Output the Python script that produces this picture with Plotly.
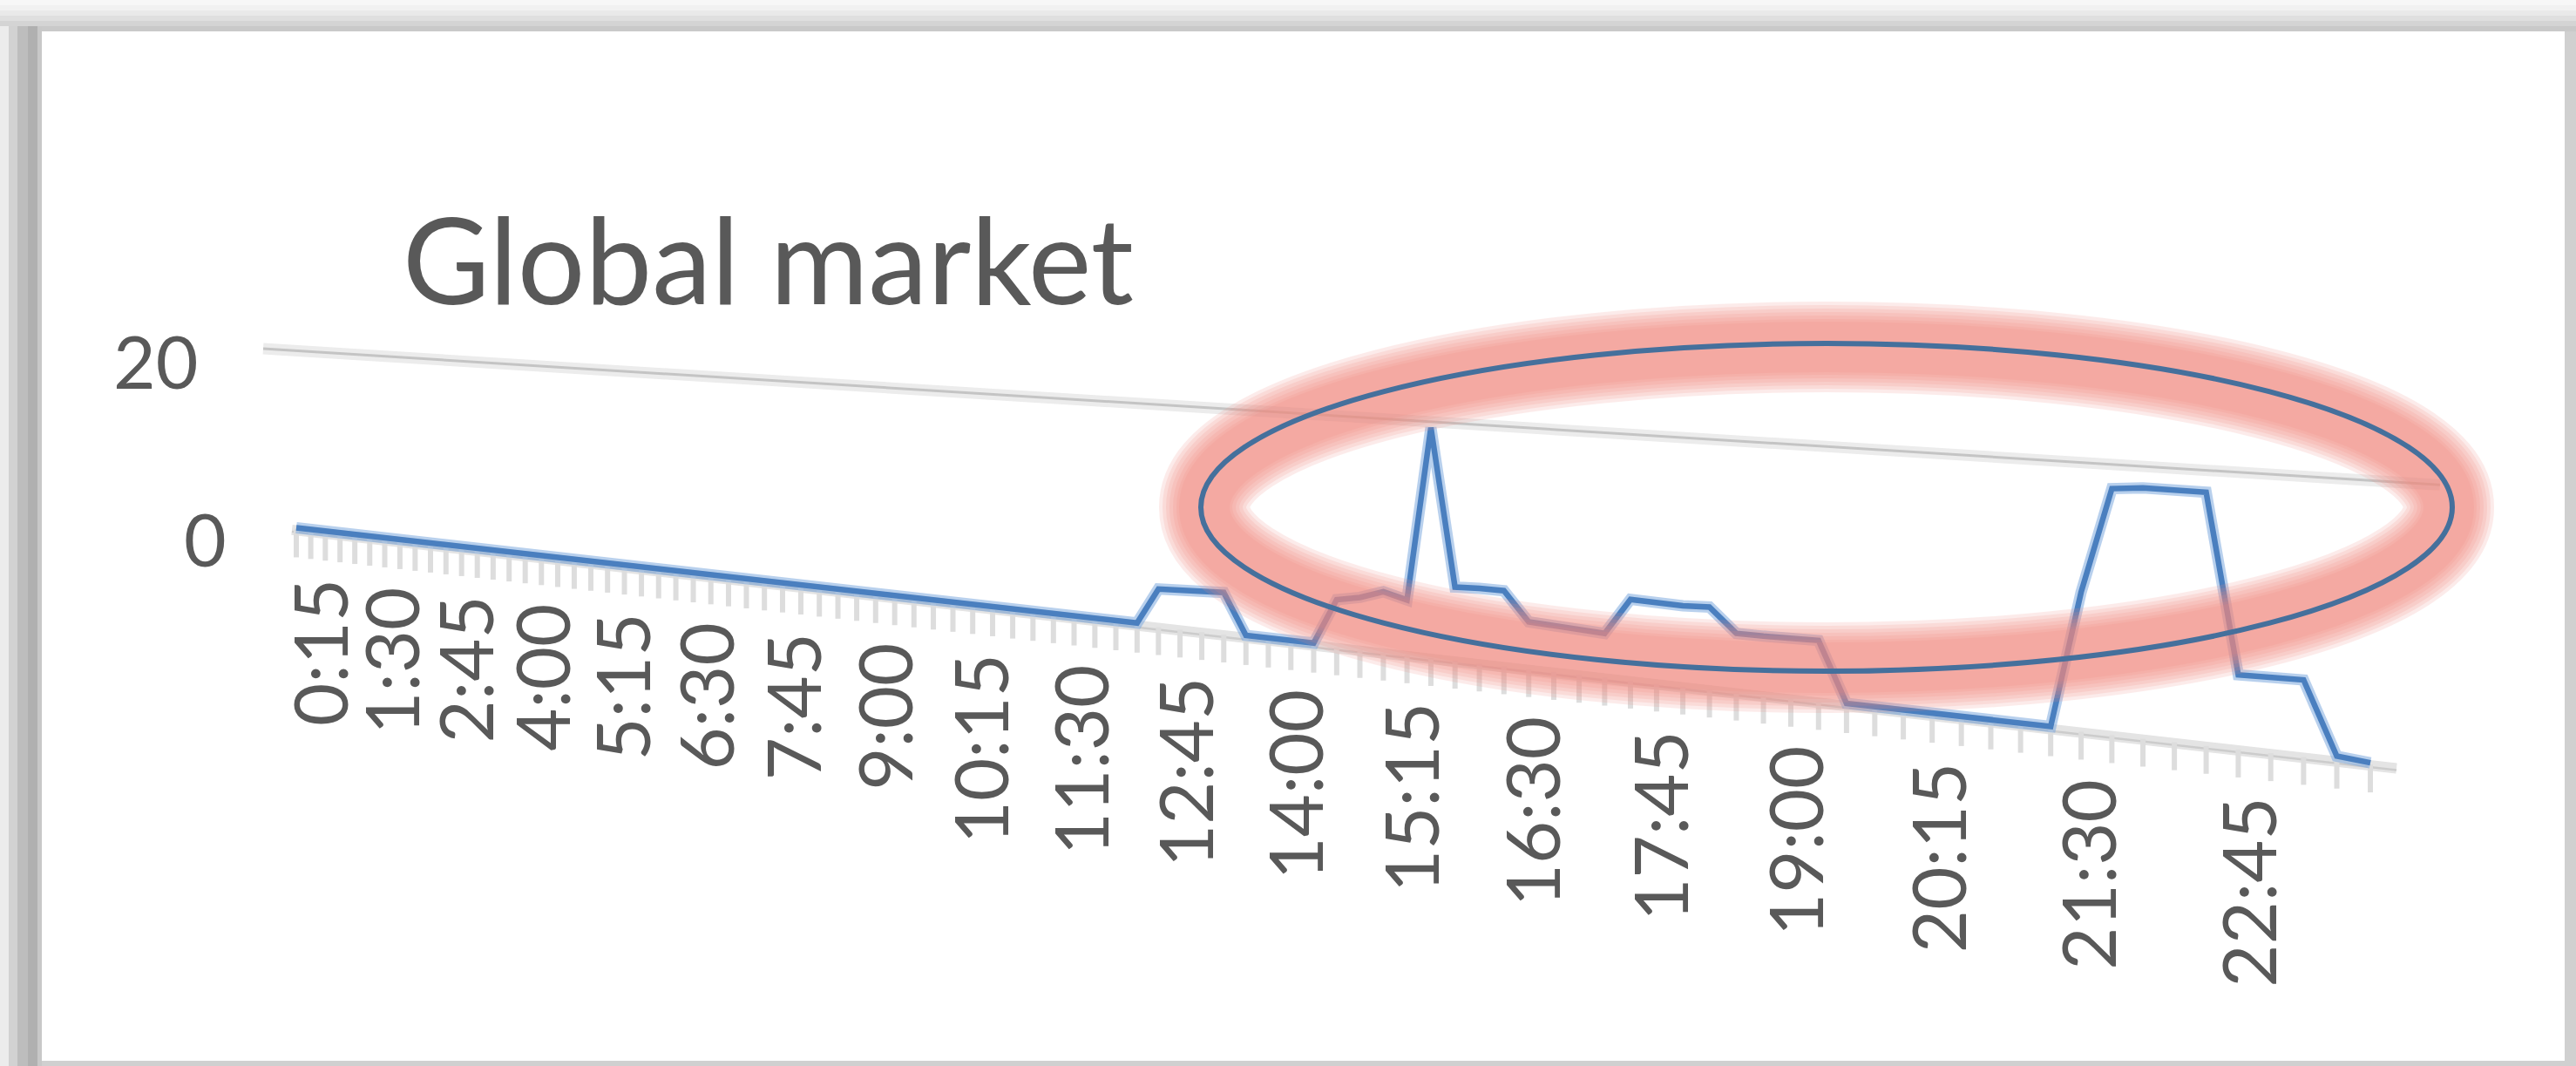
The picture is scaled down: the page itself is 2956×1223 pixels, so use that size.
import plotly.graph_objects as go

# ---------------- data ----------------
TITLE = "Global market"
# 15-minute categories 0:15 ... 23:45
TIMES = [f"{(15 * (k + 1)) // 60}:{(15 * (k + 1)) % 60:02d}" for k in range(95)]
VALUES = [
    0, 0, 0, 0, 0, 0, 0, 0, 0, 0,
    0, 0, 0, 0, 0, 0, 0, 0, 0, 0,
    0, 0, 0, 0, 0, 0, 0, 0, 0, 0,
    0, 0, 0, 0, 0, 0, 0, 0, 0, 0,
    0, 0, 0, 0, 0, 0, 0, 0, 0,
    3.3, 3.4, 3.5, 3.6,
    0, 0, 0, 0,
    4.0, 4.4, 5.1, 4.6, 19.5,
    6.1, 6.2, 6.2,
    3.8, 3.7, 3.6, 3.5,
    6.5, 6.4, 6.4, 6.5,
    4.6, 4.6, 4.6, 4.7,
    0, 0, 0, 0, 0, 0, 0, 0,
    10.3, 18.2, 18.4, 18.4, 18.4,
    5.3, 5.3, 5.4,
    0.2, 0,
]
Y_TICKS = [0, 20]
Y_MAX = 20
LABEL_STEP = 5

# ---------------- layout / perspective constants ----------------
W, H = 2956, 1223
# horizontal perspective (homography along the category axis)
LINE_A, LINE_B, LINE_C = 15.288, 340.0, -0.003688
LAB_A, LAB_B, LAB_C = 14.60, 366.0, -0.003872
# screen lines of value 0 and value Y_MAX
BASE_Y0, BASE_X0, BASE_S = 606.0, 345.0, 0.1133
TOP_Y0, TOP_X0, TOP_S = 400.0, 302.0, 0.0626
GRID_X = (302, 2800)
AXIS_X = (335, 2750)

GREY_TXT = "#595959"
FONT = "Lato, 'Open Sans', sans-serif"


def x_cat(i):
    return (LINE_A * i + LINE_B) / (1 + LINE_C * i)


def x_lab(i):
    return (LAB_A * i + LAB_B) / (1 + LAB_C * i)


def y_base(X):
    return BASE_Y0 + BASE_S * (X - BASE_X0)


def y_top(X):
    return TOP_Y0 + TOP_S * (X - TOP_X0)


def y_val(X, v):
    b = y_base(X)
    return b - v * (b - y_top(X)) / Y_MAX


fig = go.Figure()

# gridlines (non-zero ticks)
for v in Y_TICKS:
    if v == 0:
        continue
    xs = list(GRID_X)
    ys = [y_val(x, v) for x in xs]
    fig.add_trace(go.Scatter(x=xs, y=ys, mode="lines",
                             line=dict(color="#ececec", width=13), hoverinfo="skip"))
    fig.add_trace(go.Scatter(x=xs, y=ys, mode="lines",
                             line=dict(color="#c4c4c4", width=3), hoverinfo="skip"))

# category axis line
ax_x = list(AXIS_X)
ax_y = [y_val(x, 0) for x in ax_x]
fig.add_trace(go.Scatter(x=ax_x, y=[y + 3 for y in ax_y], mode="lines",
                         line=dict(color="#e4e4e4", width=12), hoverinfo="skip"))
fig.add_trace(go.Scatter(x=ax_x, y=[y + 5 for y in ax_y], mode="lines",
                         line=dict(color="#cccccc", width=2.5), hoverinfo="skip"))

# tick marks
tx, ty = [], []
for i in range(len(TIMES)):
    X = x_cat(i)
    b = y_base(X)
    tx += [X, X, None]
    ty += [b + 2, b + 34, None]
fig.add_trace(go.Scatter(x=tx, y=ty, mode="lines",
                         line=dict(color="#dddddd", width=6), hoverinfo="skip"))

# data series
px = [x_cat(i) for i in range(len(VALUES))]
py = [y_val(x_cat(i), v) for i, v in enumerate(VALUES)]
fig.add_trace(go.Scatter(x=px, y=py, mode="lines", name="Global market",
                         line=dict(color="rgba(125,170,222,0.55)", width=13)))
fig.add_trace(go.Scatter(x=px, y=py, mode="lines", name="Global market",
                         line=dict(color="#4a7fbf", width=6.5), text=TIMES))

annotations = []
annotations.append(dict(x=460, y=296, xref="x", yref="y", text=TITLE, showarrow=False,
                        xanchor="left", yanchor="middle",
                        font=dict(family=FONT, size=137, color=GREY_TXT)))
for v in Y_TICKS:
    xr = 262 - 1.65 * v
    annotations.append(dict(x=xr, y=y_val(335 - 1.65 * v, v) + 13, xref="x", yref="y",
                            text=str(v), showarrow=False, xanchor="right", yanchor="middle",
                            font=dict(family=FONT, size=84, color=GREY_TXT)))
for i in range(0, len(TIMES), LABEL_STEP):
    X = x_lab(i)
    annotations.append(dict(x=X, y=y_base(X) + 54, xref="x", yref="y", text=TIMES[i],
                            showarrow=False, textangle=-90, xanchor="center", yanchor="top",
                            font=dict(family=FONT, size=85, color=GREY_TXT)))

shapes = []
# window frame / shadow
shapes.append(dict(type="rect", x0=0, x1=W, y0=0, y1=H, xref="x", yref="y",
                   fillcolor="#d0d0d0", line=dict(width=0), layer="below"))
for (a, b, c) in [(0, 6, "#f7f7f7"), (6, 12, "#f1f1f1"), (12, 18, "#e9e9e9"),
                  (18, 24, "#dfdfdf"), (24, 30, "#d4d4d4"), (30, 36, "#c9c9c9")]:
    shapes.append(dict(type="rect", x0=0, x1=W, y0=a, y1=b, xref="x", yref="y",
                       fillcolor=c, line=dict(width=0), layer="below"))
for (a, b, c) in [(0, 10, "#ececec"), (10, 20, "#d2d2d2"), (20, 32, "#bdbdbd"),
                  (32, 43, "#b0b0b0"), (43, 48, "#c8c8c8")]:
    shapes.append(dict(type="rect", x0=a, x1=b, y0=30, y1=H, xref="x", yref="y",
                       fillcolor=c, line=dict(width=0), layer="below"))
shapes.append(dict(type="rect", x0=48, x1=2943, y0=36, y1=1217, xref="x", yref="y",
                   fillcolor="white", line=dict(width=0), layer="below"))

# highlight ellipse with soft glow
CX, CY, RX, RY = 2096, 582, 718, 188
for w in [104, 96, 88, 80, 72, 64, 58]:
    shapes.append(dict(type="circle", x0=CX - RX + 4, x1=CX + RX - 4, y0=CY - RY + 4,
                       y1=CY + RY - 4, xref="x", yref="y", opacity=0.16,
                       line=dict(color="rgb(242,138,128)", width=w), layer="above"))
shapes.append(dict(type="circle", x0=CX - RX, x1=CX + RX, y0=CY - RY, y1=CY + RY,
                   xref="x", yref="y", line=dict(color="#45709c", width=6), layer="above"))

fig.update_layout(
    width=W, height=H, margin=dict(l=0, r=0, t=0, b=0),
    paper_bgcolor="white", plot_bgcolor="white", showlegend=False,
    xaxis=dict(range=[0, W], visible=False, fixedrange=True),
    yaxis=dict(range=[H, 0], visible=False, fixedrange=True),
    annotations=annotations, shapes=shapes,
)
fig.write_html("out.html")
